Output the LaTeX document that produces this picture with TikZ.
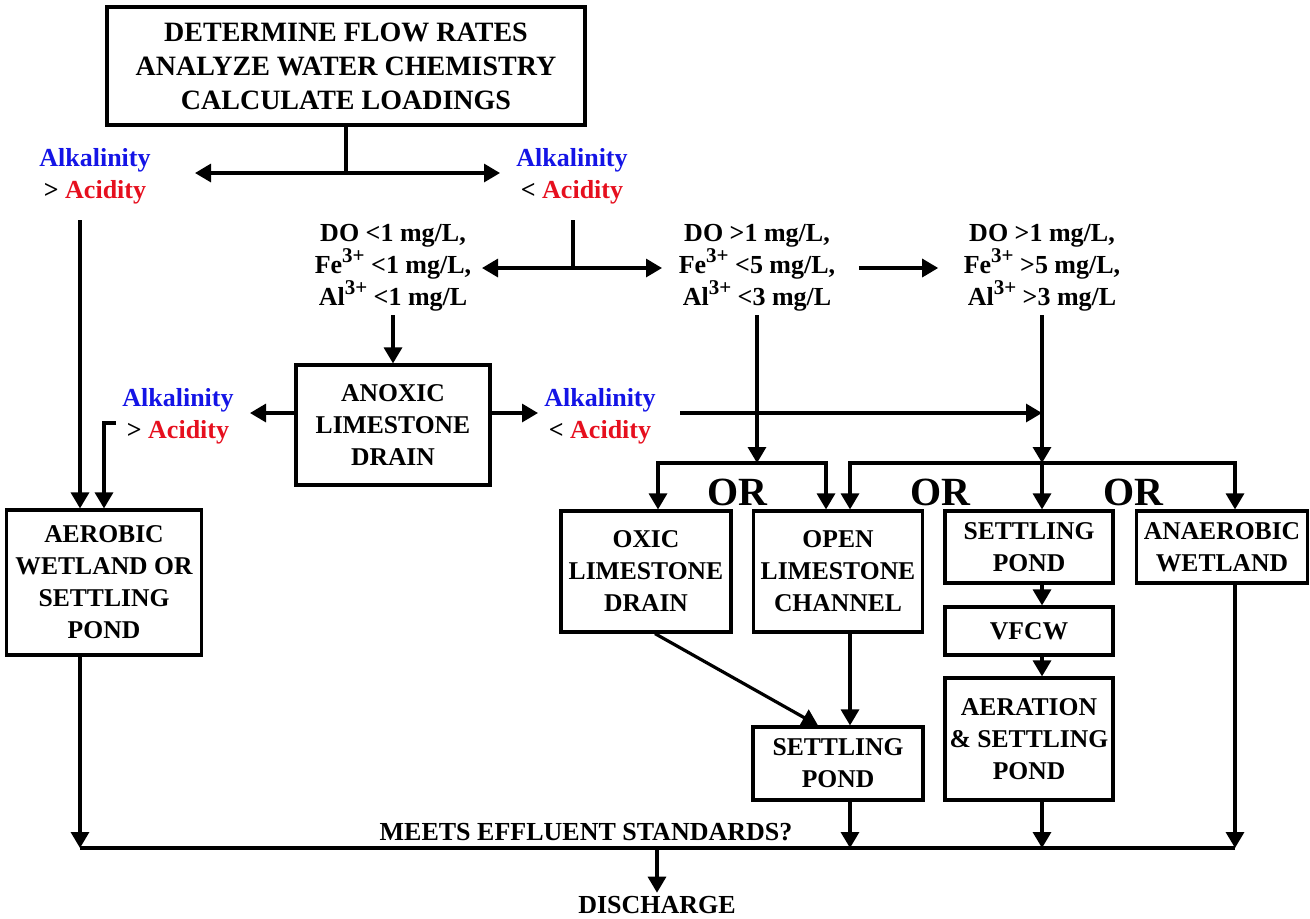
\documentclass[tikz,border=0pt]{standalone}
\usepackage{fontspec}
\setmainfont{Liberation Serif}
\usepackage{xcolor}
\usepackage{tikz}
\usetikzlibrary{arrows.meta,calc}
\definecolor{alkblue}{RGB}{20,20,230}
\definecolor{acidred}{RGB}{230,15,30}
\newcommand{\alk}{\textcolor{alkblue}{Alkalinity}}
\newcommand{\acid}{\textcolor{acidred}{Acidity}}
\newcommand{\ion}[1]{\raisebox{0.42em}{\fontsize{10.5}{10}\selectfont #1}}

\begin{document}
\begin{tikzpicture}[x=0.5pt, y=-0.5pt, line width=1.6pt, >={Triangle[length=8pt,width=9pt]},
  box/.style={draw, line width=1.6pt, align=center, inner sep=0pt, font=\fontsize{12.8}{16}\selectfont\bfseries},
  lbl/.style={align=center, inner sep=1pt, font=\fontsize{13}{16}\selectfont\bfseries},
  orlbl/.style={inner sep=0pt, font=\fontsize{20}{20}\selectfont\bfseries}]
\useasboundingbox (0,0) rectangle (1310,918);
% top box and first split
\node[box, minimum width=239pt, minimum height=59pt, font=\fontsize{14}{17}\selectfont\bfseries] (top) at (346,66) {DETERMINE FLOW RATES\\ANALYZE WATER CHEMISTRY\\CALCULATE LOADINGS};
\node[lbl] (alk1) at (95,176) {\alk\\> \acid};
\node[lbl] (alk2) at (572,176) {\alk\\< \acid};
\node[lbl] (do1) at (393,268) {DO <1 mg/L,\\Fe\ion{3+} <1 mg/L,\\Al\ion{3+} <1 mg/L};
\node[lbl] (do2) at (757,268) {DO >1 mg/L,\\Fe\ion{3+} <5 mg/L,\\Al\ion{3+} <3 mg/L};
\node[lbl] (do3) at (1042,268) {DO >1 mg/L,\\Fe\ion{3+} >5 mg/L,\\Al\ion{3+} >3 mg/L};
% second row
\node[box, minimum width=97pt, minimum height=60pt] (anox) at (393,425) {ANOXIC\\LIMESTONE\\DRAIN};
\node[lbl] (alk3) at (178,416) {\alk\\> \acid};
\node[lbl] (alk4) at (600,416) {\alk\\< \acid};
% treatment boxes
\node[box, minimum width=97.5pt, minimum height=72.5pt] (aer) at (104,582.5) {AEROBIC\\WETLAND OR\\SETTLING\\POND};
\node[box, minimum width=85pt, minimum height=60.5pt] (oxic) at (646,571.5) {OXIC\\LIMESTONE\\DRAIN};
\node[box, minimum width=84.5pt, minimum height=60.5pt] (olc) at (838,571.5) {OPEN\\LIMESTONE\\CHANNEL};
\node[box, minimum width=84pt, minimum height=36pt] (sp1) at (1029,547) {SETTLING\\POND};
\node[box, minimum width=85.5pt, minimum height=36pt] (anaer) at (1222,547) {ANAEROBIC\\WETLAND};
\node[box, minimum width=84pt, minimum height=24pt] (vfcw) at (1029,631) {VFCW};
\node[box, minimum width=84pt, minimum height=61pt] (aerat) at (1029,739) {AERATION\\\& SETTLING\\POND};
\node[box, minimum width=85pt, minimum height=36.5pt] (sp2) at (838,763.5) {SETTLING\\POND};
\node[orlbl] (or1) at (737,492) {OR};
\node[orlbl] (or2) at (940,492) {OR};
\node[orlbl] (or3) at (1133,492) {OR};
\node[lbl] (meets) at (586,832) {MEETS EFFLUENT STANDARDS?};
\node[lbl] (dis) at (657,905) {DISCHARGE};
% junction points
\coordinate (s1) at (346,173);
\coordinate (t1l) at (195,173);
\coordinate (t1r) at (500,173);
\coordinate (a1s) at (80,220);
\coordinate (a2s) at (573,220);
\coordinate (s2) at (573,268);
\coordinate (t2l) at (482,268);
\coordinate (t2r) at (662,268);
\coordinate (l2t) at (250,413);
\coordinate (r2t) at (538,413);
\coordinate (l2s) at (116,423);
\coordinate (r2s) at (680,413);
\coordinate (b1) at (757,463);
\coordinate (b2) at (1042,463);
\coordinate (m1) at (80,848);
\coordinate (m2) at (850,848);
\coordinate (m3) at (1042,848);
\coordinate (m5) at (1235,848);
\coordinate (m0) at (657,848);
% connectors
\draw (top.south) -- (s1);
\draw[->] (s1) -- (t1l);
\draw[->] (s1) -- (t1r);
\draw[->] (a1s) -- (a1s |- aer.north);
\draw (a2s) -- (s2);
\draw[->] (s2) -- (t2l);
\draw[->] (s2) -- (t2r);
\draw[->] ([xshift=10pt]do2.east) -- ([xshift=-11pt]do3.west);
\draw[->] (do1.south) -- (anox.north);
\draw[->] ([yshift=6pt]anox.west) -- (l2t);
\draw[->] ([yshift=6pt]anox.east) -- (r2t);
\draw[->] (l2s) -| (aer.north);
\draw[->] (r2s) -- (r2s -| b2);
\draw[->] (do2.south) -- (b1);
\draw[->] (do3.south) -- (b2);
\draw[->] (b1) -| ([xshift=6pt]oxic.north);
\draw[->] (b1) -| ([xshift=-6pt]olc.north);
\draw[->] (b2) -| ([xshift=6pt]olc.north);
\draw[->] (b2) -| ([xshift=6.5pt]anaer.north);
\draw[->] (b2) -- (b2 |- sp1.north);
\draw[->] ([xshift=6.5pt]sp1.south) -- ([xshift=6.5pt]vfcw.north);
\draw[->] ([xshift=6.5pt]vfcw.south) -- ([xshift=6.5pt]aerat.north);
\draw[->] ([xshift=4.5pt]oxic.south) -- ([xshift=-10pt]sp2.north);
\draw[->] ([xshift=6pt]olc.south) -- ([xshift=6pt]sp2.north);
% to the discharge line
\draw[->] ([xshift=-12pt]aer.south) -- (m1);
\draw[->] ([xshift=6pt]sp2.south) -- (m2);
\draw[->] ([xshift=6.5pt]aerat.south) -- (m3);
\draw[->] ([xshift=6.5pt]anaer.south) -- (m5);
\draw (m1) -- (m5);
\draw[->] (m0) -- (dis.north);
\end{tikzpicture}
\end{document}
